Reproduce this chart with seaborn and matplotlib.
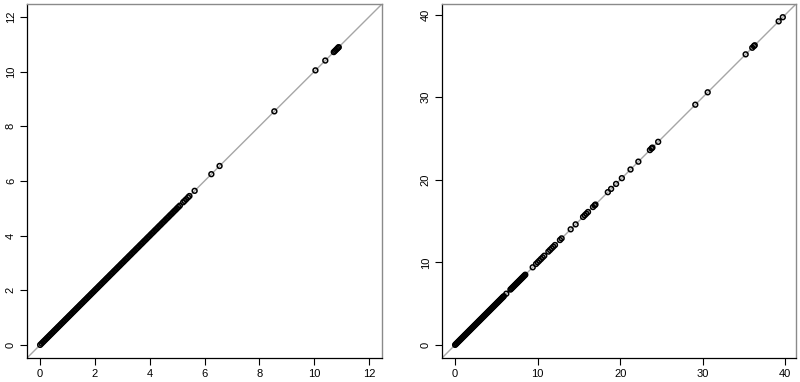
import matplotlib
matplotlib.use("Agg")
import matplotlib.pyplot as plt
import seaborn as sns
import pandas as pd

sns.set_theme(style="white")
plt.rcParams['font.family'] = ['Liberation Sans', 'DejaVu Sans']

# Left panel values (points lie on y = x)
left_x = [
    0.00, 0.05, 0.10, 0.15, 0.20, 0.25, 0.30, 0.35, 0.40, 0.45,
    0.50, 0.55, 0.60, 0.65, 0.70, 0.75, 0.80, 0.85, 0.90, 0.95,
    1.00, 1.05, 1.10, 1.15, 1.20, 1.25, 1.30, 1.35, 1.40, 1.45,
    1.50, 1.55, 1.60, 1.65, 1.70, 1.75, 1.80, 1.85, 1.90, 1.95,
    2.00, 2.05, 2.10, 2.15, 2.20, 2.25, 2.30, 2.35, 2.40, 2.45,
    2.50, 2.55, 2.60, 2.65, 2.70, 2.75, 2.80, 2.85, 2.90, 2.95,
    3.00, 3.05, 3.10, 3.15, 3.20, 3.25, 3.30, 3.35, 3.40, 3.45,
    3.50, 3.55, 3.60, 3.65, 3.70, 3.75, 3.80, 3.85, 3.90, 3.95,
    4.00, 4.05, 4.10, 4.15, 4.20, 4.25, 4.30, 4.35, 4.40, 4.45,
    4.50, 4.55, 4.60, 4.65, 4.70, 4.75, 4.80, 4.85, 4.90, 4.95,
    5.00, 5.05, 5.10, 5.22, 5.27, 5.33, 5.40, 5.45, 5.64, 6.25,
    6.55, 8.55, 10.05, 10.41, 10.72, 10.76, 10.80, 10.84, 10.88, 10.90]
left_y = list(left_x)

# Right panel values (points lie on y = x)
right_x = [
    0.0, 0.1, 0.2, 0.3, 0.4, 0.5, 0.6, 0.7, 0.8, 0.9,
    1.0, 1.1, 1.2, 1.3, 1.4, 1.5, 1.6, 1.7, 1.8, 1.9,
    2.0, 2.1, 2.2, 2.3, 2.4, 2.5, 2.6, 2.7, 2.8, 2.9,
    3.0, 3.1, 3.2, 3.3, 3.4, 3.5, 3.6, 3.7, 3.8, 3.9,
    4.0, 4.1, 4.2, 4.3, 4.4, 4.5, 4.6, 4.7, 4.8, 4.9,
    5.0, 5.1, 5.2, 5.3, 5.4, 5.5, 5.6, 5.7, 5.8, 5.9,
    6.2, 6.7, 6.8, 6.9, 7.0, 7.1, 7.2, 7.3, 7.4, 7.5,
    7.6, 7.7, 7.8, 7.9, 8.0, 8.1, 8.2, 8.3, 8.4, 8.5,
    9.4, 9.8, 10.0, 10.2, 10.4, 10.6, 10.8, 11.3, 11.5, 11.7,
    11.9, 12.1, 12.7, 12.9, 14.0, 14.6, 15.5, 15.7, 15.9, 16.1,
    16.7, 16.9, 17.0, 18.5, 18.9, 19.5, 20.2, 21.25, 22.2, 23.6,
    23.8, 23.9, 24.6, 29.1, 30.6, 35.2, 36.0, 36.2, 36.3, 39.2, 39.7]
right_y = list(right_x)

left_ticks = [0, 2, 4, 6, 8, 10, 12]
right_ticks = [0, 10, 20, 30, 40]
left_lim = (-0.48, 12.48)
right_lim = (-1.59, 41.3)

W, H = 800, 382
fig = plt.figure(figsize=(W / 100, H / 100), dpi=100)
ax1 = fig.add_axes([27 / W, 24 / H, 355 / W, 354 / H])
ax2 = fig.add_axes([442 / W, 24 / H, 354 / W, 354 / H])

panels = [(ax1, left_x, left_y, left_ticks, left_lim),
          (ax2, right_x, right_y, right_ticks, right_lim)]

for ax, xs, ys, ticks, lim in panels:
    df = pd.DataFrame({"x": xs, "y": ys})
    ax.axline((0, 0), slope=1, color="#a6a6a6", lw=1.0, zorder=1)
    sns.scatterplot(data=df, x="x", y="y", ax=ax, marker="o", s=12,
                    facecolor="none", edgecolor="black", linewidth=1.1, zorder=3)
    ax.set_xlim(lim)
    ax.set_ylim(lim)
    ax.set_xticks(ticks)
    ax.set_yticks(ticks)
    ax.set_xticklabels([str(t) for t in ticks], fontsize=8)
    ax.set_yticklabels([str(t) for t in ticks], fontsize=8, rotation=90, va="center")
    ax.set_xlabel("")
    ax.set_ylabel("")
    ax.tick_params(axis="both", direction="out", length=5, width=0.8, color="black",
                   bottom=True, left=True, pad=3, labelcolor="black")
    for name, sp in ax.spines.items():
        if name in ("left", "bottom"):
            sp.set_color("black")
            sp.set_linewidth(0.9)
        else:
            sp.set_color("#8a8a8a")
            sp.set_linewidth(1.0)
    ax.set_facecolor("white")

fig.savefig("out.png", dpi=100)
